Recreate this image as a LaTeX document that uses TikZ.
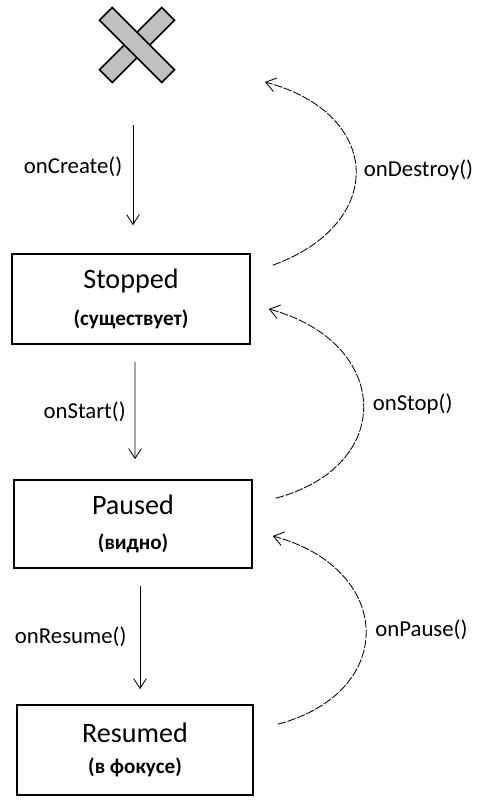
\documentclass[tikz,border=0pt]{standalone}
\usepackage{fontspec}
\setmainfont{Carlito}
\usetikzlibrary{positioning,arrows.meta,calc}

\tikzset{
    state/.style={draw,line width=1.1pt,minimum width=5.95cm,minimum height=2.25cm,align=center},
    flow/.style={-{Straight Barb[length=7pt,width=9pt]},line width=0.6pt},
    back/.style={-{Straight Barb[length=7pt,width=10pt]},line width=0.6pt,dash pattern=on 6pt off 1.2pt,looseness=1.7},
    bar/.style={draw,line width=1.2pt,fill=gray!50,minimum width=2.2cm,minimum height=0.45cm},
    lbl/.style={font=\fontsize{16.2}{19}\selectfont}
}
\newcommand{\statename}[1]{{\fontsize{20}{23}\selectfont #1}}
\newcommand{\statenote}[1]{{\fontsize{15}{18}\selectfont\bfseries #1}}

\begin{document}
\begin{tikzpicture}
    \useasboundingbox (0,0) rectangle (11.925,-20);

    % Destroyed mark
    \node[minimum size=1.75cm,inner sep=0] (cross) at (3.425,-1.125) {};
    \node[bar,rotate=45] (barA) at (cross) {};
    \node[bar,rotate=-45] (barB) at (cross) {};

    % States
    \node[state] (stopped) at (3.275,-7.475) {\statename{Stopped}\\[11pt]\statenote{(существует)}};
    \node[state,minimum height=2.2cm] (paused) at (3.325,-13.1) {\statename{Paused}\\[13pt]\statenote{(видно)}};
    \node[state,minimum width=5.9cm] (resumed) at (3.375,-18.75) {\statename{Resumed}\\[10pt]\statenote{(в фокусе)}};

    % Free end of onDestroy
    \coordinate (gone) at (6.625,-2.05);

    % Forward transitions
    \draw[flow,shorten <=1.125cm,shorten >=0.7cm] ([xshift=-0.1cm]cross.south) -- ([xshift=-0.1cm]cross.south |- stopped.north)
        node[midway,left=4pt,lbl] {onCreate()};
    \draw[flow,shorten <=0.425cm,shorten >=0.5cm] ([xshift=0.1cm]stopped.south) -- ([xshift=0.05cm]paused.north)
        node[midway,left=3pt,lbl] {onStart()};
    \draw[flow,shorten <=0.425cm,shorten >=0.375cm] ([xshift=0.175cm]paused.south) -- ([xshift=0.125cm]resumed.north)
        node[midway,left=6pt,lbl] {onResume()};

    % Backward transitions
    \draw[back] ([shift={(0.55,-0.3)}]stopped.north east) to[out=20,in=-15]
        node[midway,right=2pt,lbl] {onDestroy()} (gone);
    \draw[back] ([shift={(0.575,-0.475)}]paused.north east) to[out=15,in=-15]
        node[midway,right=3pt,lbl] {onStop()} ([shift={(0.45,-0.25)}]stopped.east);
    \draw[back] ([shift={(0.6,-0.5)}]resumed.north east) to[out=15,in=-15]
        node[midway,right=3pt,lbl] {onPause()} ([shift={(0.5,-0.3)}]paused.east);
\end{tikzpicture}
\end{document}
